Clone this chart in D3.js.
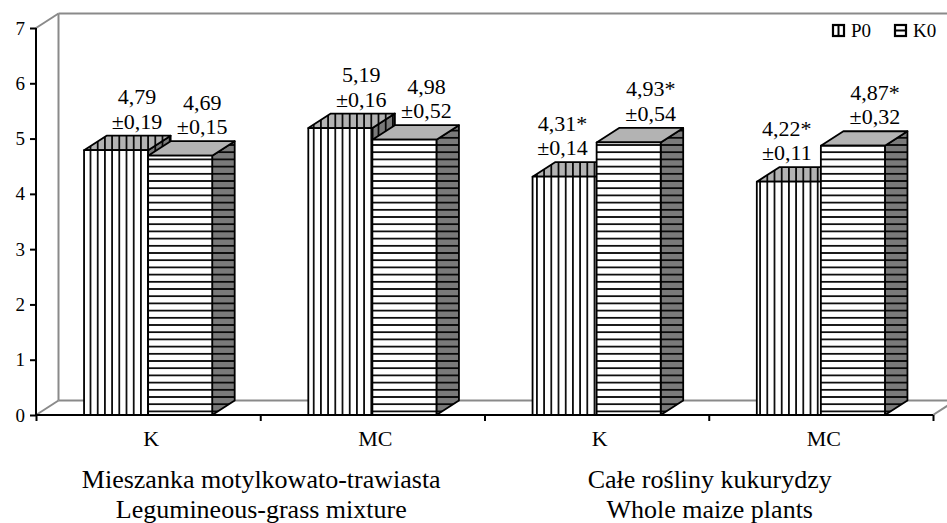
<!DOCTYPE html>
<html>
<head>
<meta charset="utf-8">
<script src="https://cdn.jsdelivr.net/npm/d3@7"></script>
<style>
  html, body { margin: 0; padding: 0; background: #fff; }
  svg { display: block; }
  text { font-family: "Liberation Serif", "Times New Roman", serif; fill: #000; }
</style>
</head>
<body>
<svg id="chart" width="947" height="523"></svg>
<script>
// Silage types (x categories) and their group captions
const categories = ["K", "MC", "K", "MC"];
const groupCaptions = [
  ["Mieszanka motylkowato-trawiasta", "Legumineous-grass mixture"],
  ["Całe rośliny kukurydzy", "Whole maize plants"]
];
const seriesNames = ["P0", "K0"];

// Mean values and standard deviations
const p0Values = [4.79, 5.19, 4.31, 4.22];
const k0Values = [4.69, 4.98, 4.93, 4.87];
const p0Sd = [0.19, 0.16, 0.14, 0.11];
const k0Sd = [0.15, 0.52, 0.54, 0.32];
const p0Significant = [false, false, true, true];
const k0Significant = [false, false, true, true];

const yTicks = [0, 1, 2, 3, 4, 5, 6, 7];

const left = 36, right = 933, base = 415, top7 = 28;
const DX = 22.5, DY = 14.5;        // oblique depth of the 3-D box
const wallColor = "#8a8a8a";

const svg = d3.select("#chart");
const defs = svg.append("defs");

// ---- fill patterns -------------------------------------------------
function stripePattern(id, bg, vertical) {
  const p = 7.2;
  const pat = defs.append("pattern")
    .attr("id", id)
    .attr("patternUnits", "userSpaceOnUse")
    .attr("width", vertical ? p : 10)
    .attr("height", vertical ? 10 : p)
    .attr("x", vertical ? 0.5 : 0)
    .attr("y", vertical ? 0 : base % p);
  pat.append("rect").attr("width", vertical ? p : 10).attr("height", vertical ? 10 : p).attr("fill", bg);
  if (vertical) {
    pat.append("line").attr("x1", p / 2).attr("x2", p / 2).attr("y1", 0).attr("y2", 10)
      .attr("stroke", "#000").attr("stroke-width", 1.7);
  } else {
    pat.append("line").attr("y1", p / 2).attr("y2", p / 2).attr("x1", 0).attr("x2", 10)
      .attr("stroke", "#000").attr("stroke-width", 1.7);
  }
}
stripePattern("v-front", "#ffffff", true);
stripePattern("v-top", "#b3b3b3", true);
stripePattern("v-side", "#7a7a7a", true);
stripePattern("h-front", "#ffffff", false);
stripePattern("h-side", "#7a7a7a", false);

const faceFill = [
  { front: "url(#v-front)", top: "url(#v-top)", side: "url(#v-side)" },
  { front: "url(#h-front)", top: "#b3b3b3", side: "url(#h-side)" }
];

// ---- scales --------------------------------------------------------
const y = d3.scaleLinear().domain([0, 7]).range([base, top7]);
const xGroup = d3.scaleBand()
  .domain(d3.range(categories.length))
  .range([left, right])
  .paddingInner(0.4286)
  .paddingOuter(0.2143);
const xSeries = d3.scaleBand().domain([0, 1]).range([0, xGroup.bandwidth()]);
const xEdges = d3.scaleLinear().domain([0, categories.length]).range([left, right]);

// ---- walls and floor -----------------------------------------------
const walls = svg.append("g").attr("stroke", wallColor).attr("stroke-width", 2).attr("fill", "none");
const wallLines = [
  [[left, top7], [left + DX, top7 - DY]],
  [[left, base], [left + DX, base - DY]],
  [[left + DX, top7 - DY], [left + DX, base - DY]],
  [[left + DX, top7 - DY], [right + DX + 5, top7 - DY]],
  [[left + DX, base - DY], [right + DX, base - DY]],
  [[right, base], [right + DX, base - DY]],
  [[right + DX, top7 - DY], [right + DX, base - DY]]
];
walls.selectAll("path").data(wallLines).join("path").attr("d", d => d3.line()(d));

// ---- axes ------------------------------------------------------------
const yAxis = svg.append("g")
  .attr("transform", `translate(${left},0)`)
  .call(d3.axisLeft(y).tickValues(yTicks).tickSize(6).tickPadding(5).tickFormat(d3.format("d")));
yAxis.select(".domain").attr("stroke", "#000").attr("stroke-width", 2).attr("d", `M0,${top7}V${base}`);
yAxis.selectAll(".tick line").attr("stroke", "#000").attr("stroke-width", 2);
yAxis.selectAll(".tick text").attr("font-size", 19).attr("font-family", "Liberation Serif, serif");

const xAxis = svg.append("g")
  .attr("transform", `translate(0,${base})`)
  .call(d3.axisBottom(xEdges).tickValues(d3.range(categories.length + 1)).tickSize(6).tickFormat(""));
xAxis.select(".domain").attr("stroke", "#000").attr("stroke-width", 2).attr("d", `M${left},0H${right}`);
xAxis.selectAll(".tick line").attr("stroke", "#000").attr("stroke-width", 2);

// ---- bars ------------------------------------------------------------
const bars = [];
categories.forEach((c, i) => {
  [p0Values[i], k0Values[i]].forEach((v, s) => {
    bars.push({
      i, s, v,
      sd: s === 0 ? p0Sd[i] : k0Sd[i],
      sig: s === 0 ? p0Significant[i] : k0Significant[i],
      other: s === 0 ? k0Values[i] : p0Values[i]
    });
  });
});

const barG = svg.append("g").attr("stroke", "#000").attr("stroke-width", 1.8).attr("stroke-linejoin", "round");
bars.forEach(b => {
  const x = xGroup(b.i) + xSeries(b.s);
  const w = xSeries.bandwidth();
  const yt = y(b.v), yb = y(0);
  const g = barG.append("g");
  g.append("path").attr("fill", faceFill[b.s].side)
    .attr("d", d3.line()([[x + w, yt], [x + w + DX, yt - DY], [x + w + DX, yb - DY], [x + w, yb]]) + "Z");
  g.append("path").attr("fill", faceFill[b.s].top)
    .attr("d", d3.line()([[x, yt], [x + DX, yt - DY], [x + w + DX, yt - DY], [x + w, yt]]) + "Z");
  g.append("rect").attr("fill", faceFill[b.s].front)
    .attr("x", x).attr("y", yt).attr("width", w).attr("height", yb - yt);
});

// ---- value labels ------------------------------------------------
const fmt = v => d3.format(".2f")(v).replace(".", ",");
const lineGap = 24.5;
const labels = svg.append("g").attr("font-size", 22).attr("text-anchor", "middle");
bars.forEach(b => {
  const x = xGroup(b.i) + xSeries(b.s) + xSeries.bandwidth() / 2;
  // labels sit over the rear edge of the top face; a shorter P0 bar keeps its label clear of the taller K0 label
  const shift = (b.s === 0 && b.other > b.v) ? -2 : (b.s === 0 ? 21 : 22);
  const yBack = y(b.v) - DY;
  const t = labels.append("text").attr("x", x + shift).attr("y", yBack - 7 - lineGap);
  t.append("tspan").text(fmt(b.v) + (b.sig ? "*" : ""));
  t.append("tspan").attr("x", x + shift).attr("dy", lineGap).text("±" + fmt(b.sd));
});

// ---- category and group labels ------------------------------------
svg.append("g").attr("font-size", 22).attr("text-anchor", "middle")
  .selectAll("text").data(categories).join("text")
  .attr("x", (d, i) => xGroup(i) + xGroup.bandwidth() / 2 + 3)
  .attr("y", 446)
  .text(d => d);

const gl = svg.append("g").attr("font-size", 26).attr("text-anchor", "middle");
groupCaptions.forEach((lines, g) => {
  const cx = (xEdges(g * 2) + xEdges(g * 2 + 2)) / 2 + 1;
  lines.forEach((line, k) => {
    gl.append("text").attr("x", cx).attr("y", 488 + k * 30).text(line);
  });
});

// ---- legend ----------------------------------------------------------
const legend = svg.append("g").attr("font-size", 19);
const legendX = [833, 895];
seriesNames.forEach((name, s) => {
  const lx = legendX[s], ly = 25, sz = 11;
  legend.append("rect").attr("x", lx).attr("y", ly).attr("width", sz).attr("height", sz)
    .attr("fill", "#fff").attr("stroke", "#000").attr("stroke-width", 2.2);
  if (s === 0) {
    legend.append("line").attr("x1", lx + sz / 2).attr("x2", lx + sz / 2).attr("y1", ly).attr("y2", ly + sz)
      .attr("stroke", "#000").attr("stroke-width", 2);
  } else {
    legend.append("line").attr("y1", ly + sz / 2).attr("y2", ly + sz / 2).attr("x1", lx).attr("x2", lx + sz)
      .attr("stroke", "#000").attr("stroke-width", 2);
  }
  legend.append("text").attr("x", lx + sz + 7).attr("y", ly + sz + 0.5).text(name);
});
</script>
</body>
</html>
